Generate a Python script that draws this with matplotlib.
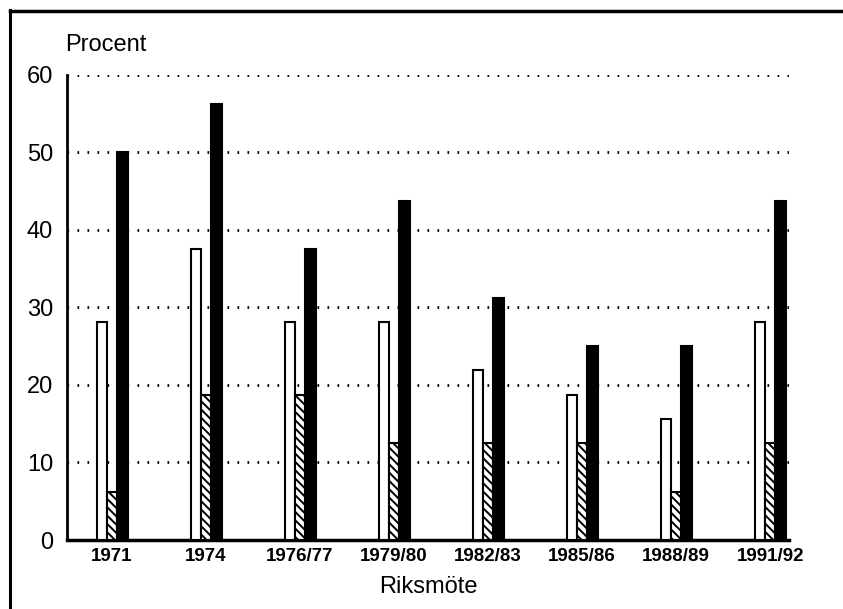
import matplotlib.pyplot as plt
import numpy as np
from matplotlib.lines import Line2D

plt.rcParams["font.family"] = ["Liberation Sans", "DejaVu Sans"]
plt.rcParams["hatch.linewidth"] = 1.4

# data
riksmote = ['1971', '1974', '1976/77', '1979/80', '1982/83', '1985/86', '1988/89', '1991/92']
vita = [28.1, 37.5, 28.1, 28.1, 21.9, 18.75, 15.6, 28.1]
streckade = [6.25, 18.75, 18.75, 12.5, 12.5, 12.5, 6.25, 12.5]
svarta = [50.0, 56.25, 37.5, 43.75, 31.25, 25.0, 25.0, 43.75]

x = np.arange(len(riksmote))
w = 0.11

fig = plt.figure(figsize=(8.43, 6.09), dpi=100)
ax = fig.add_axes([0.0795, 0.1133, 0.8565, 0.7637])

ax.bar(x - w, vita, w, color='white', edgecolor='black', linewidth=1.5, zorder=3)
ax.bar(x, streckade, w, color='white', edgecolor='black', linewidth=1.5, hatch='\\\\\\\\', zorder=3)
ax.bar(x + w, svarta, w, color='black', edgecolor='black', linewidth=1.5, zorder=3)

# dotted grid
for yv in range(10, 70, 10):
    ax.axhline(yv, color='black', lw=2.0, ls=(0, (0.6, 3.0)), zorder=1)

ax.set_xlim(-0.479, 7.20)
ax.set_ylim(0, 60)
ax.set_yticks(range(0, 70, 10))
ax.set_xticks(x)
ax.set_xticklabels(riksmote, fontsize=13.5, fontweight='semibold')
ax.tick_params(axis='y', length=0, pad=10, labelsize=17)
ax.tick_params(axis='x', length=0, pad=6)
ax.spines['top'].set_visible(False)
ax.spines['right'].set_visible(False)
ax.spines['left'].set_linewidth(2)
ax.spines['bottom'].set_linewidth(2.5)

ax.set_xlabel('Riksmöte', fontsize=17, labelpad=8)
fig.text(65 / 843, 1 - 45 / 609, 'Procent', fontsize=17, ha='left', va='center')

# outer frame
fig.add_artist(Line2D([10 / 843, 10 / 843], [0, 1 - 10 / 609], color='black', lw=2.2, transform=fig.transFigure))
fig.add_artist(Line2D([10 / 843, 1], [1 - 11 / 609, 1 - 11 / 609], color='black', lw=2.5, transform=fig.transFigure))

plt.savefig('out.png', dpi=100)
